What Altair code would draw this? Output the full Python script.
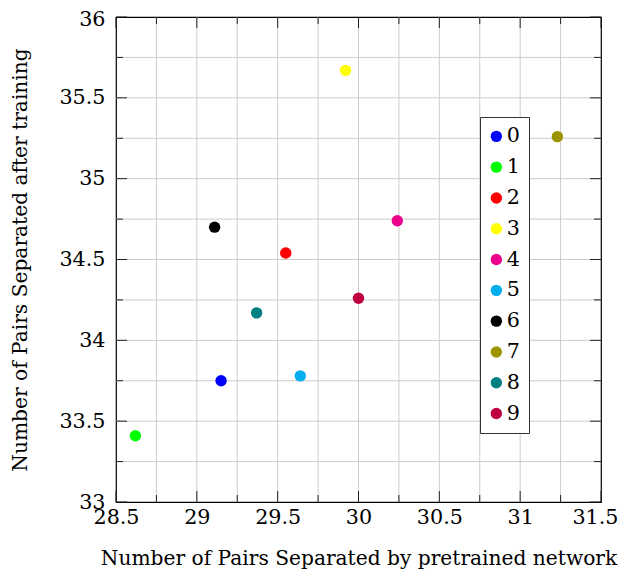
import altair as alt
import pandas as pd

# ---- data ----
classes = ["0", "1", "2", "3", "4", "5", "6", "7", "8", "9"]
pretrained = [29.15, 28.62, 29.55, 29.92, 30.24, 29.64, 29.11, 31.23, 29.37, 30.00]
after_training = [33.75, 33.41, 34.54, 35.67, 34.74, 33.78, 34.70, 35.26, 34.17, 34.26]
colors = ["#0000ff", "#00ff00", "#ff0000", "#ffff00", "#ec008c",
          "#00aeef", "#000000", "#9c9400", "#008080", "#bf0040"]

x_ticks = [28.5, 29.0, 29.5, 30.0, 30.5, 31.0, 31.5]
y_ticks = [33.0, 33.5, 34.0, 34.5, 35.0, 35.5, 36.0]
x_minor = [28.75, 29.25, 29.75, 30.25, 30.75, 31.25]
y_minor = [33.25, 33.75, 34.25, 34.75, 35.25, 35.75]
x_grid = [28.75, 29.0, 29.25, 29.5, 29.75, 30.0, 30.25, 30.5, 30.75, 31.0, 31.25]
y_grid = [33.25, 33.5, 33.75, 34.0, 34.25, 34.5, 34.75, 35.0, 35.25, 35.5, 35.75]

x_title = "Number of Pairs Separated by pretrained network"
y_title = "Number of Pairs Separated after training"

W, H = 485, 485
FONT = "DejaVu Serif"
FS = 20.7
FT = 20.2
MAJ, MIN = 11, 7

xs = alt.Scale(domain=[28.5, 31.5], nice=False, zero=False)
ys = alt.Scale(domain=[33, 36], nice=False, zero=False)

last_x = "datum.value >= 31.5"
top_y = "datum.value >= 36"
xa = alt.Axis(
    values=x_ticks, format="~g", title=x_title, ticks=False, domain=False,
    grid=False, labelFlush=False, labelFont=FONT, labelFontSize=FS,
    labelColor="black", labelPadding=5,
    labelAlign={"condition": {"test": last_x, "value": "right"}, "value": "center"},
    labelOffset={"condition": {"test": last_x, "value": 17}, "value": 0},
    titleFont=FONT, titleFontSize=FT,
    titleFontWeight="normal", titleColor="black", titleY=62,
    titleBaseline="alphabetic")
ya = alt.Axis(
    values=y_ticks, format="~g", title=y_title, ticks=False, domain=False,
    grid=False, labelFlush=False, labelFont=FONT, labelFontSize=FS,
    labelColor="black", labelPadding=11,
    labelOffset={"condition": {"test": top_y, "value": 2}, "value": 0},
    titleFont=FONT, titleFontSize=FT,
    titleFontWeight="normal", titleColor="black", titleX=-90,
    titleBaseline="alphabetic")

pts = pd.DataFrame({"cls": classes, "x": pretrained, "y": after_training})

points = alt.Chart(pts).mark_circle(size=130, opacity=1).encode(
    x=alt.X("x:Q", scale=xs, axis=xa),
    y=alt.Y("y:Q", scale=ys, axis=ya),
    color=alt.Color("cls:N", scale=alt.Scale(domain=classes, range=colors),
                    legend=alt.Legend(
                        orient="none", legendX=364, legendY=100, title=None,
                        fillColor="white", strokeColor="#333333", padding=9,
                        labelFont=FONT, labelFontSize=FS, labelColor="black",
                        symbolType="circle", symbolSize=130, symbolStrokeWidth=0,
                        symbolOffset=-3, rowPadding=8.8, labelOffset=0)),
)

gx = alt.Chart(pd.DataFrame({"x": x_grid})).mark_rule(color="#cccccc", strokeWidth=1).encode(
    x=alt.X("x:Q", scale=xs, axis=xa))
gy = alt.Chart(pd.DataFrame({"y": y_grid})).mark_rule(color="#cccccc", strokeWidth=1).encode(
    y=alt.Y("y:Q", scale=ys, axis=ya))


def xticks(vals, length):
    base = alt.Chart(pd.DataFrame({"x": vals})).mark_rule(color="#222222", strokeWidth=1)
    bottom = base.encode(x=alt.X("x:Q", scale=xs, axis=xa), y=alt.value(H), y2=alt.value(H - length))
    top = base.encode(x=alt.X("x:Q", scale=xs, axis=xa), y=alt.value(0), y2=alt.value(length))
    return [bottom, top]


def yticks(vals, length):
    base = alt.Chart(pd.DataFrame({"y": vals})).mark_rule(color="#222222", strokeWidth=1)
    left = base.encode(y=alt.Y("y:Q", scale=ys, axis=ya), x=alt.value(0), x2=alt.value(length))
    right = base.encode(y=alt.Y("y:Q", scale=ys, axis=ya), x=alt.value(W), x2=alt.value(W - length))
    return [left, right]


layers = [gx, gy] + xticks(x_ticks, MAJ) + xticks(x_minor, MIN) + \
    yticks(y_ticks, MAJ) + yticks(y_minor, MIN) + [points]

chart = alt.layer(*layers).properties(
    width=W, height=H,
    autosize=alt.AutoSizeParams(type="none"),
    padding={"left": 108, "top": 9, "right": 17, "bottom": 67},
).configure_view(stroke="black", strokeWidth=1.2)

chart.save("out.html", embed_options={"renderer": "svg", "actions": False})
